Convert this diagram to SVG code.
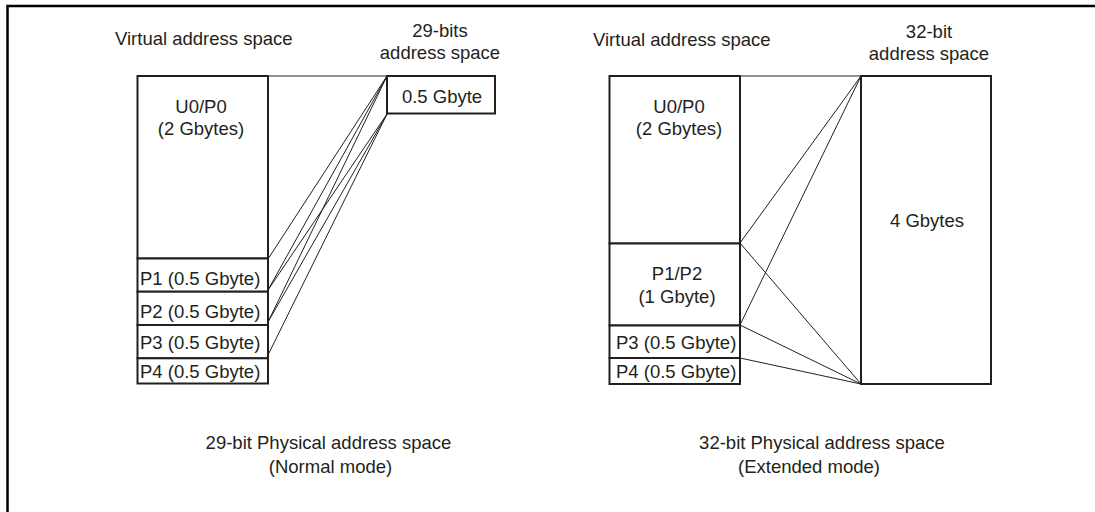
<svg xmlns="http://www.w3.org/2000/svg" width="1095" height="512" viewBox="0 0 1095 512">
<style>
text{font-family:"Liberation Sans",Arial,sans-serif;font-size:18.5px;fill:#231f20}
.c{text-anchor:middle}
.box{fill:#fff;stroke:#231f20;stroke-width:2}
.ln{stroke:#231f20;stroke-width:1;fill:none}
</style>
<rect width="1095" height="512" fill="#fff"/>
<polyline points="7.5,512 7.5,6 1095,6" fill="none" stroke="#000" stroke-width="2.5"/>

<g id="left-titles">
<text x="115" y="45">Virtual address space</text>
<text class="c" x="440" y="37">29-bits</text>
<text class="c" x="440" y="59">address space</text>
</g>
<g id="right-titles">
<text x="593" y="46">Virtual address space</text>
<text class="c" x="929" y="38">32-bit</text>
<text class="c" x="929" y="60">address space</text>
</g>

<g id="connectors">
<line class="ln" x1="268" y1="76" x2="387" y2="76"/>
<line class="ln" x1="268" y1="259" x2="387" y2="76"/>
<line class="ln" x1="268" y1="290" x2="387" y2="76"/>
<line class="ln" x1="268" y1="322" x2="387" y2="76"/>
<line class="ln" x1="268" y1="290" x2="387" y2="114"/>
<line class="ln" x1="268" y1="322" x2="387" y2="114"/>
<line class="ln" x1="268" y1="355" x2="387" y2="114"/>
<line class="ln" x1="740" y1="76" x2="861" y2="76"/>
<line class="ln" x1="740" y1="243" x2="861" y2="76"/>
<line class="ln" x1="740" y1="325" x2="861" y2="76"/>
<line class="ln" x1="740" y1="243" x2="861" y2="384"/>
<line class="ln" x1="740" y1="325" x2="861" y2="384"/>
<line class="ln" x1="740" y1="358" x2="861" y2="384"/>
</g>

<g id="l-u0p0"><rect class="box" x="137.5" y="76" width="130.5" height="182.5"/><text class="c" x="201" y="113">U0/P0</text><text class="c" x="201" y="135">(2 Gbytes)</text></g>
<g id="l-p1"><rect class="box" x="137.5" y="258.5" width="130.5" height="33.2"/><text x="140" y="285">P1 (0.5 Gbyte)</text></g>
<g id="l-p2"><rect class="box" x="137.5" y="291.7" width="130.5" height="33.3"/><text x="140" y="318">P2 (0.5 Gbyte)</text></g>
<g id="l-p3"><rect class="box" x="137.5" y="325" width="130.5" height="33.3"/><text x="140" y="349">P3 (0.5 Gbyte)</text></g>
<g id="l-p4"><rect class="box" x="137.5" y="358.3" width="130.5" height="25.2"/><text x="140" y="378">P4 (0.5 Gbyte)</text></g>
<g id="phys29"><rect class="box" x="387" y="76" width="108" height="37.5"/><text class="c" x="442" y="103">0.5 Gbyte</text></g>

<g id="r-u0p0"><rect class="box" x="609.5" y="76" width="130.5" height="167.5"/><text class="c" x="679" y="113">U0/P0</text><text class="c" x="679" y="135">(2 Gbytes)</text></g>
<g id="r-p1p2"><rect class="box" x="609.5" y="243.5" width="130.5" height="82"/><text class="c" x="677" y="280">P1/P2</text><text class="c" x="677" y="303">(1 Gbyte)</text></g>
<g id="r-p3"><rect class="box" x="609.5" y="325.5" width="130.5" height="32.5"/><text x="616" y="349">P3 (0.5 Gbyte)</text></g>
<g id="r-p4"><rect class="box" x="609.5" y="358" width="130.5" height="26"/><text x="616" y="378">P4 (0.5 Gbyte)</text></g>
<g id="phys32"><rect class="box" x="861" y="76" width="130" height="308"/><text class="c" x="927" y="227">4 Gbytes</text></g>

<g id="captions">
<text class="c" x="328.5" y="449">29-bit Physical address space</text>
<text class="c" x="330.5" y="473">(Normal mode)</text>
<text class="c" x="822" y="449">32-bit Physical address space</text>
<text class="c" x="809" y="473">(Extended mode)</text>
</g>
</svg>
